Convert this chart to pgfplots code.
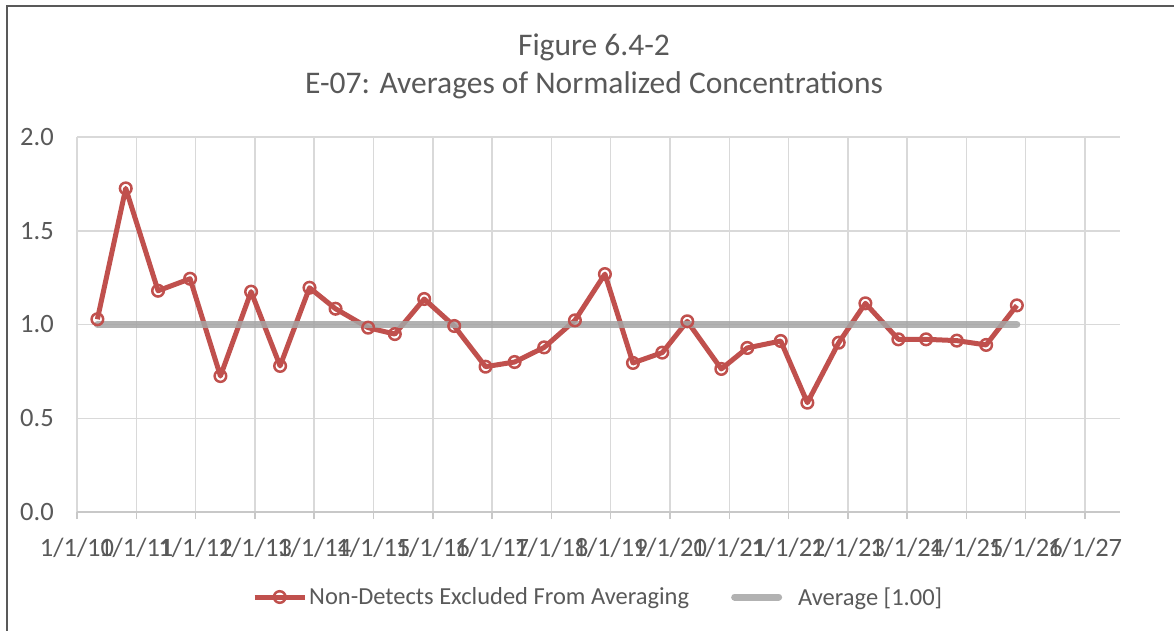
\documentclass[border=0pt]{standalone}
\usepackage{pgfplots}
\pgfplotsset{compat=1.18}
\usepackage{fontspec}
\setmainfont{Carlito}
\definecolor{txt}{HTML}{595959}
\definecolor{gridc}{HTML}{D9D9D9}
\definecolor{axc}{HTML}{C8C8C8}
\definecolor{ser}{HTML}{C0504D}
\definecolor{avg}{HTML}{A5A5A5}
\pgfplotsset{
  serleg/.style={legend image code/.code={\draw[##1,mark repeat=2,mark phase=2] plot coordinates {(0pt,0pt) (25pt,0pt) (50pt,0pt)};}},
  avgleg/.style={legend image code/.code={\draw[##1] (3pt,0pt) -- (47pt,0pt);}},
}
\begin{document}
\begin{tikzpicture}[x=1pt,y=1pt]
\useasboundingbox (0,0) rectangle (1174,630);
\draw[txt, line width=2.2pt] (7,-5) -- (7,624) -- (1180,624);
\node[txt, font=\fontsize{31.5}{36}\selectfont] at (594,583) {Figure 6.4-2};
\node[txt, font=\fontsize{31.5}{36}\selectfont] at (594,545) {E-07: Averages of Normalized Concentrations};
\begin{axis}[
  at={(77pt,118pt)}, anchor=south west, scale only axis,
  width=1043pt, height=375pt,
  xmin=10, xmax=27.59, ymin=0, ymax=2,
  axis x line*=bottom, axis y line*=left,
  x axis line style={draw=axc, line width=1.5pt, -},
  y axis line style={draw=none},
  xtick={10,...,27},
  xticklabels={1/1/10,1/1/11,1/1/12,1/1/13,1/1/14,1/1/15,1/1/16,1/1/17,1/1/18,1/1/19,1/1/20,1/1/21,1/1/22,1/1/23,1/1/24,1/1/25,1/1/26,1/1/27},
  ytick={0,0.5,1,1.5,2},
  xtick align=outside,
  major tick length=7pt,
  xtick style={draw=axc, line width=1.5pt},
  ytick style={draw=none},
  grid=major,
  major grid style={draw=gridc, line width=1.5pt},
  /pgf/number format/assume math mode=true,
  /pgf/number format/fixed, /pgf/number format/fixed zerofill, /pgf/number format/precision=1,
  ticklabel style={font=\fontsize{26.5}{30}\selectfont, text=txt, inner sep=0pt},
  yticklabel style={anchor=east, xshift=-23pt},
  xticklabel style={anchor=north, yshift=-19pt},
  legend style={at={(0.1678,-0.2267)}, anchor=west, draw=none, fill=none, inner sep=0pt,
    font=\fontsize{24.5}{28}\selectfont, text=txt, legend columns=2,
    /tikz/every even column/.append style={column sep=40pt}},
  legend cell align=left,
]
\addplot[ser, line width=5pt, line join=round, mark=o, mark size=5.8pt,
  mark options={line width=2.5pt, solid}, serleg]
coordinates {
(10.344,1.028) (10.822,1.726) (11.367,1.180) (11.907,1.244) (12.419,0.725)
(12.936,1.175) (13.425,0.779) (13.921,1.196) (14.360,1.084) (14.910,0.983)
(15.360,0.949) (15.855,1.136) (16.361,0.992) (16.890,0.775) (17.380,0.800)
(17.879,0.878) (18.397,1.022) (18.903,1.269) (19.376,0.795) (19.870,0.850)
(20.292,1.017) (20.866,0.763) (21.304,0.875) (21.868,0.912) (22.317,0.583)
(22.846,0.903) (23.296,1.113) (23.852,0.921) (24.319,0.921) (24.837,0.914)
(25.332,0.891) (25.850,1.102)
};
\addlegendentry{Non-Detects Excluded From Averaging}
\addplot[avg, line width=7pt, line cap=round, opacity=0.85, avgleg]
coordinates {(10.344,1) (25.850,1)};
\addlegendentry{\hspace{14pt}Average [1.00]}
\end{axis}
\end{tikzpicture}
\end{document}
